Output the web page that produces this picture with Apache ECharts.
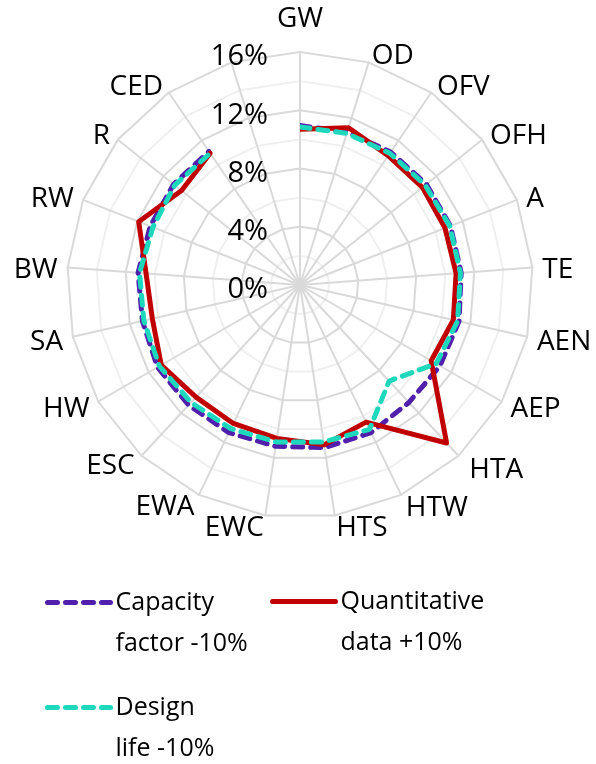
<!DOCTYPE html>
<html>
<head>
<meta charset="utf-8">
<script src="https://cdn.jsdelivr.net/npm/echarts@6/dist/echarts.min.js"></script>
<style>
html, body { margin: 0; padding: 0; background: #fff; }
#chart { width: 596px; height: 764px; }
</style>
</head>
<body>
<div id="chart"></div>
<script>
// categories, clockwise from the top; the last spoke has no label and no value
var categories = ['GW', 'OD', 'OFV', 'OFH', 'A', 'TE', 'AEN', 'AEP', 'HTA', 'HTW',
	'HTS', 'EWC', 'EWA', 'ESC', 'HW', 'SA', 'BW', 'RW', 'R', 'CED', ''];
var capacityFactor = [10.95, 11.0, 11.05, 11.1, 11.1, 11.1, 11.2, 11.1, 11.0, 11.25,
	11.3, 11.2, 11.25, 11.25, 11.3, 11.1, 11.15, 11.05, 11.1, 11.1, null];
var quantitative = [10.7, 11.3, 10.75, 10.75, 10.7, 10.75, 10.8, 10.4, 14.8, 10.45,
	11.1, 10.65, 10.55, 10.5, 11.0, 10.4, 10.6, 11.9, 10.4, 10.95, null];
var designLife = [10.85, 10.9, 10.95, 11.0, 11.05, 11.05, 11.1, 10.8, 9.0, 11.0,
	10.9, 10.9, 10.95, 11.0, 11.15, 11.0, 11.05, 10.85, 11.0, 10.95, null];
var seriesNames = ['Capacity factor -10%', 'Quantitative data +10%', 'Design life -10%'];
// leading blank line puts the first text line level with the legend line
var legendText = ['\nCapacity\nfactor -10%', '\nQuantitative\ndata +10%', '\nDesign\nlife -10%'];

var FONT = 'Open Sans';
var CENTER = [300, 285];
var RADIUS = 233;

// radar goes counter-clockwise, so feed its names in reverse
var radarNames = [categories[0]].concat(categories.slice(1).reverse());
var bigGap = { GW: 36, HTA: 16, HTW: 11 };
var indicators = radarNames.map(function(n) {
	var o = { name: n, min: 0, max: 16 };
	if (bigGap[n]) o.nameGap = bigGap[n];
	return o;
});

var chart = echarts.init(document.getElementById('chart'));

function legendFor(i, left, top) {
	return {
		data: [seriesNames[i]],
		left: left,
		top: top,
		padding: 0,
		itemWidth: 63,
		itemHeight: 14,
		itemGap: 0,
		itemStyle: { opacity: 0 },
		lineStyle: { width: 5 },
		formatter: function() { return legendText[i]; },
		textStyle: {
			fontFamily: FONT,
			fontSize: 25,
			color: '#000',
			lineHeight: 41
		}
	};
}

var option = {
	animation: false,
	backgroundColor: '#fff',
	radar: {
		center: CENTER,
		radius: RADIUS,
		startAngle: 90,
		shape: 'polygon',
		splitNumber: 8,
		nameGap: 10,
		indicator: indicators,
		axisName: {
			color: '#000',
			fontFamily: FONT,
			fontSize: 28,
			verticalAlign: 'top',
			lineHeight: 6
		},
		axisLine: { lineStyle: { color: '#d9d9d9', width: 2 } },
		splitLine: { lineStyle: { color: ['#d9d9d9', '#efefef'], width: 2 } },
		splitArea: { show: false },
		axisTick: { show: false },
		axisLabel: { show: false }
	},
	polar: {
		center: CENTER,
		radius: RADIUS
	},
	angleAxis: {
		type: 'category',
		data: categories,
		boundaryGap: false,
		startAngle: 90,
		clockwise: true,
		axisLine: { show: false },
		axisTick: { show: false },
		axisLabel: { show: false },
		splitLine: { show: false }
	},
	radiusAxis: {
		min: 0,
		max: 16,
		interval: 4,
		axisLine: { show: false },
		axisTick: { show: false },
		splitLine: { show: false },
		axisLabel: {
			formatter: '{value}%',
			margin: 32,
			color: '#000',
			fontFamily: FONT,
			fontSize: 29,
			verticalAlign: 'top',
			lineHeight: 10
		},
		z: 5
	},
	legend: [
		legendFor(0, 45, 541),
		legendFor(1, 270, 540),
		legendFor(2, 45, 646)
	],
	series: [{
		name: seriesNames[0],
		type: 'line',
		coordinateSystem: 'polar',
		symbol: 'none',
		data: capacityFactor,
		lineStyle: { color: '#5020ac', width: 5, type: [10, 8], cap: 'round' },
		itemStyle: { color: '#5020ac' }
	}, {
		name: seriesNames[1],
		type: 'line',
		coordinateSystem: 'polar',
		symbol: 'none',
		data: quantitative,
		lineStyle: { color: '#c00000', width: 5, cap: 'round', join: 'round' },
		itemStyle: { color: '#c00000' }
	}, {
		name: seriesNames[2],
		type: 'line',
		coordinateSystem: 'polar',
		symbol: 'none',
		data: designLife,
		lineStyle: { color: '#1ed8be', width: 5, type: [10, 8], cap: 'round' },
		itemStyle: { color: '#1ed8be' }
	}]
};
chart.setOption(option);
</script>
</body>
</html>
